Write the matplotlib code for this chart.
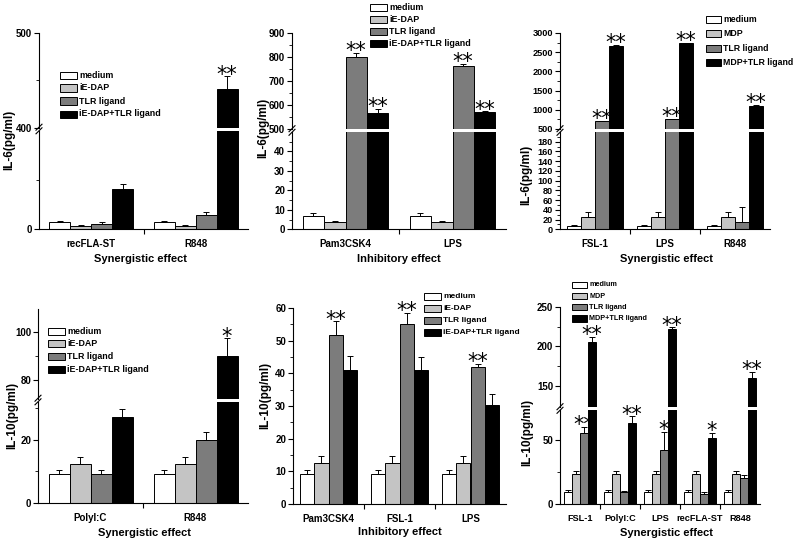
import numpy as np
import matplotlib
matplotlib.use("Agg")
import matplotlib.pyplot as plt
from matplotlib.patches import Rectangle
from matplotlib.lines import Line2D

plt.rcParams['font.family'] = ['Liberation Sans', 'DejaVu Sans']
plt.rcParams['font.weight'] = 'bold'

W, H = 796, 545
bar_colors = ['white', '#c4c4c4', '#7c7c7c', 'black']

# ---- panel 1: IL-6, iE-DAP, synergistic
p1_groups = ['recFLA-ST', 'R848']
p1_labels = ['medium', 'iE-DAP', 'TLR ligand', 'iE-DAP+TLR ligand']
p1_medium = [7, 7]
p1_medium_err = [1.5, 1.5]
p1_iedap = [3.5, 3.5]
p1_iedap_err = [1, 1]
p1_tlr = [5, 14]
p1_tlr_err = [2.5, 3]
p1_combo = [41, 441]
p1_combo_err = [5, 13]
p1_stars = [(1, 3, '**')]

# ---- panel 2: IL-6, iE-DAP, inhibitory
p2_groups = ['Pam3CSK4', 'LPS']
p2_labels = ['medium', 'iE-DAP', 'TLR ligand', 'iE-DAP+TLR ligand']
p2_medium = [7, 7]
p2_medium_err = [1.3, 1.3]
p2_iedap = [3.8, 3.8]
p2_iedap_err = [0.5, 0.5]
p2_tlr = [798, 762]
p2_tlr_err = [20, 10]
p2_combo = [568, 570]
p2_combo_err = [15, 3]
p2_stars = [(0, 2, '**'), (0, 3, '**'), (1, 2, '**'), (1, 3, '**')]

# ---- panel 3: IL-6, MDP, synergistic
p3_groups = ['FSL-1', 'LPS', 'R848']
p3_labels = ['medium', 'MDP', 'TLR ligand', 'MDP+TLR ligand']
p3_medium = [7, 7, 7]
p3_medium_err = [1.5, 1.5, 1.5]
p3_mdp = [26, 26, 26]
p3_mdp_err = [10, 10, 10]
p3_tlr = [700, 760, 15]
p3_tlr_err = [15, 10, 30]
p3_combo = [2650, 2740, 1100]
p3_combo_err = [30, 10, 20]
p3_stars = [(0, 2, '**'), (0, 3, '**'), (1, 2, '**'), (1, 3, '**'), (2, 3, '**')]

# ---- panel 4: IL-10, iE-DAP, synergistic
p4_groups = ['PolyI:C', 'R848']
p4_labels = ['medium', 'iE-DAP', 'TLR ligand', 'iE-DAP+TLR ligand']
p4_medium = [9.1, 9.1]
p4_medium_err = [1.3, 1.3]
p4_iedap = [12.4, 12.4]
p4_iedap_err = [2.2, 2.2]
p4_tlr = [9.1, 20]
p4_tlr_err = [1.2, 2.5]
p4_combo = [27, 90]
p4_combo_err = [2.5, 7.3]
p4_stars = [(1, 3, '*')]

# ---- panel 5: IL-10, iE-DAP, inhibitory
p5_groups = ['Pam3CSK4', 'FSL-1', 'LPS']
p5_labels = ['medium', 'iE-DAP', 'TLR ligand', 'iE-DAP+TLR ligand']
p5_medium = [9.2, 9.2, 9.2]
p5_medium_err = [1.2, 1.2, 1.2]
p5_iedap = [12.5, 12.5, 12.5]
p5_iedap_err = [2.2, 2.2, 2.2]
p5_tlr = [51.7, 55.1, 41.9]
p5_tlr_err = [4.2, 3.3, 1.0]
p5_combo = [41, 41, 30.3]
p5_combo_err = [4.2, 4.0, 3.5]
p5_stars = [(0, 2, '**'), (1, 2, '**'), (2, 2, '**')]

# ---- panel 6: IL-10, MDP, synergistic
p6_groups = ['FSL-1', 'PolyI:C', 'LPS', 'recFLA-ST', 'R848']
p6_labels = ['medium', 'MDP', 'TLR ligand', 'MDP+TLR ligand']
p6_medium = [9.5, 9.5, 9.5, 9.5, 9.5]
p6_medium_err = [1, 1, 1, 1, 1]
p6_mdp = [23, 23, 23, 23, 23]
p6_mdp_err = [2.5, 2.5, 2.5, 2.5, 2.5]
p6_tlr = [55, 9, 42, 8, 20]
p6_tlr_err = [5, 1, 14, 1, 2.5]
p6_combo = [205, 63, 222, 51, 160]
p6_combo_err = [7, 5, 2, 4, 8]
p6_stars = [(0, 2, '**'), (0, 3, '**'), (1, 3, '**'), (2, 2, '*'), (2, 3, '**'),
            (3, 3, '*'), (4, 3, '**')]

fig = plt.figure(figsize=(W / 100, H / 100), dpi=100)


def px_axes(x0, x1, y0, y1):
    return fig.add_axes([x0 / W, 1 - y1 / H, (x1 - x0) / W, (y1 - y0) / H])


def draw_bars(ax, series, errs):
    ng = len(series[0])
    x = np.arange(ng)
    width = 0.2
    for i, (vals, e) in enumerate(zip(series, errs)):
        pos = x + (i - 1.5) * width
        ax.bar(pos, vals, width, color=bar_colors[i], edgecolor='black', linewidth=0.7, zorder=2)
        ax.errorbar(pos, vals, yerr=[np.zeros(ng), e], fmt='none', ecolor='black',
                    elinewidth=0.7, capsize=2, capthick=0.7, zorder=3)
    ax.set_xlim(-0.5, ng - 0.5)


def style_y(ax, lim, ticks, minor, fs):
    ax.set_ylim(*lim)
    ax.set_yticks(ticks)
    ax.set_yticks(minor, minor=True)
    ax.spines['top'].set_visible(False)
    ax.spines['right'].set_visible(False)
    ax.spines['left'].set_linewidth(0.8)
    ax.spines['bottom'].set_linewidth(0.8)
    ax.tick_params(axis='y', which='major', direction='out', length=3.5, width=0.8,
                   labelsize=fs, pad=1.5)
    ax.tick_params(axis='y', which='minor', direction='out', length=2, width=0.6)
    ax.set_facecolor('none')


def legend(x, y, step, labels, fs, hw=17, hh=7):
    for i, lab in enumerate(labels):
        yc = y + i * step
        fig.add_artist(Rectangle((x / W, 1 - (yc + hh / 2) / H), hw / W, hh / H,
                                 transform=fig.transFigure, facecolor=bar_colors[i],
                                 edgecolor='black', linewidth=0.7))
        fig.text((x + hw + 2) / W, 1 - yc / H, lab, ha='left', va='center',
                 fontsize=fs, fontweight='bold')


def panel(x0, x1, top, bottom, groups, series, errs, stars,
          low, upp=None, brk=None, fs=7, xfs=7):
    if brk is not None:
        ax_up = px_axes(x0, x1, top, brk - 1.5)
        ax_lo = px_axes(x0, x1, brk + 1.5, bottom)
    else:
        ax_up = None
        ax_lo = px_axes(x0, x1, top, bottom)

    draw_bars(ax_lo, series, errs)
    style_y(ax_lo, *low, fs)
    ng = len(groups)
    ax_lo.set_xticks(np.arange(ng))
    ax_lo.set_xticklabels(groups, fontsize=xfs, fontweight='bold')
    ax_lo.set_xticks(np.arange(ng - 1) + 0.5, minor=True)
    ax_lo.tick_params(axis='x', which='major', length=0, pad=7)
    ax_lo.tick_params(axis='x', which='minor', direction='out', length=3.5, width=0.8)

    if ax_up is not None:
        draw_bars(ax_up, series, errs)
        style_y(ax_up, *upp, fs)
        ax_up.spines['bottom'].set_visible(False)
        ax_up.tick_params(axis='x', which='both', bottom=False, labelbottom=False)
        # break marks on the y axis
        for dy in (-1.8, 1.8):
            xs = [(x0 - 3) / W, (x0 + 3) / W]
            ys = [1 - (brk + dy + 3) / H, 1 - (brk + dy - 3) / H]
            fig.add_artist(Line2D(xs, ys, color='black', lw=0.8, transform=fig.transFigure))

    for g, s, txt in stars:
        pos = g + (s - 1.5) * 0.2
        top_val = series[s][g] + errs[s][g]
        ax = ax_up if (ax_up is not None and top_val > low[0][1]) else ax_lo
        ax.annotate(txt, (pos, top_val), xytext=(0, -3), textcoords='offset points',
                    ha='center', va='baseline', fontsize=15, fontweight='normal',
                    family='DejaVu Sans', zorder=4, annotation_clip=False)
    return ax_lo, ax_up


# panel 1
panel(39, 248, 33, 229, p1_groups,
      [p1_medium, p1_iedap, p1_tlr, p1_combo],
      [p1_medium_err, p1_iedap_err, p1_tlr_err, p1_combo_err], p1_stars,
      low=((0, 100), [0], [50]), upp=((400, 500), [400, 500], [450]), brk=129)
legend(60, 75, 13, p1_labels, 6.4)
fig.text(9 / W, 1 - 140 / H, 'IL-6(pg/ml)', rotation=90, ha='center', va='center', fontsize=8.5)
fig.text(140 / W, 1 - 259 / H, 'Synergistic effect', ha='center', va='center', fontsize=8)

# panel 2
panel(292, 506, 33, 229.3, p2_groups,
      [p2_medium, p2_iedap, p2_tlr, p2_combo],
      [p2_medium_err, p2_iedap_err, p2_tlr_err, p2_combo_err], p2_stars,
      low=((0, 50), [0, 10, 20, 30, 40], [5, 15, 25, 35, 45]),
      upp=((500, 900), [500, 600, 700, 800, 900], [550, 650, 750, 850]), brk=130.5)
legend(370, 7, 12.2, p2_labels, 6.4)
fig.text(263 / W, 1 - 128 / H, 'IL-6(pg/ml)', rotation=90, ha='center', va='center', fontsize=8.5)
fig.text(399 / W, 1 - 259 / H, 'Inhibitory effect', ha='center', va='center', fontsize=8)

# panel 3
panel(560, 770, 33, 229.3, p3_groups,
      [p3_medium, p3_mdp, p3_tlr, p3_combo],
      [p3_medium_err, p3_mdp_err, p3_tlr_err, p3_combo_err], p3_stars,
      low=((0, 200), list(range(0, 200, 20)), list(range(10, 200, 20))),
      upp=((500, 3000), [500, 1000, 1500, 2000, 2500, 3000], [750, 1250, 1750, 2250, 2750]),
      brk=130.5, fs=6.6)
legend(706, 19, 14.6, p3_labels, 6.3, hw=15)
fig.text(526 / W, 1 - 175 / H, 'IL-6(pg/ml)', rotation=90, ha='center', va='center', fontsize=8.5)
fig.text(666 / W, 1 - 259 / H, 'Synergistic effect', ha='center', va='center', fontsize=8)

# panel 4
panel(38, 248, 309, 503, p4_groups,
      [p4_medium, p4_iedap, p4_tlr, p4_combo],
      [p4_medium_err, p4_iedap_err, p4_tlr_err, p4_combo_err], p4_stars,
      low=((0, 32), [0, 20], [10, 30]), upp=((72.5, 109.4), [80, 100], [90]), brk=400)
legend(48, 331, 12.9, p4_labels, 6.4)
fig.text(12 / W, 1 - 415 / H, 'IL-10(pg/ml)', rotation=90, ha='center', va='center', fontsize=8.5)
fig.text(145 / W, 1 - 533 / H, 'Synergistic effect', ha='center', va='center', fontsize=8)

# panel 5
panel(293, 506, 308, 504, p5_groups,
      [p5_medium, p5_iedap, p5_tlr, p5_combo],
      [p5_medium_err, p5_iedap_err, p5_tlr_err, p5_combo_err], p5_stars,
      low=((0, 60), [0, 10, 20, 30, 40, 50, 60], [5, 15, 25, 35, 45, 55]))
legend(424, 296, 12.3, p5_labels, 6.0)
fig.text(265 / W, 1 - 395 / H, 'IL-10(pg/ml)', rotation=90, ha='center', va='center', fontsize=8.5)
fig.text(400 / W, 1 - 532 / H, 'Inhibitory effect', ha='center', va='center', fontsize=8)

# panel 6
panel(560, 760, 307, 504, p6_groups,
      [p6_medium, p6_mdp, p6_tlr, p6_combo],
      [p6_medium_err, p6_mdp_err, p6_tlr_err, p6_combo_err], p6_stars,
      low=((0, 73), [0, 50], [25]), upp=((123, 250), [150, 200, 250], [175, 225]),
      brk=408.5, fs=7, xfs=6.6)
legend(572, 285, 11.1, p6_labels, 5.2, hw=15, hh=6.5)
fig.text(527 / W, 1 - 432 / H, 'IL-10(pg/ml)', rotation=90, ha='center', va='center', fontsize=8.5)
fig.text(666 / W, 1 - 533 / H, 'Synergistic effect', ha='center', va='center', fontsize=8)

fig.savefig('out.png', dpi=100)
